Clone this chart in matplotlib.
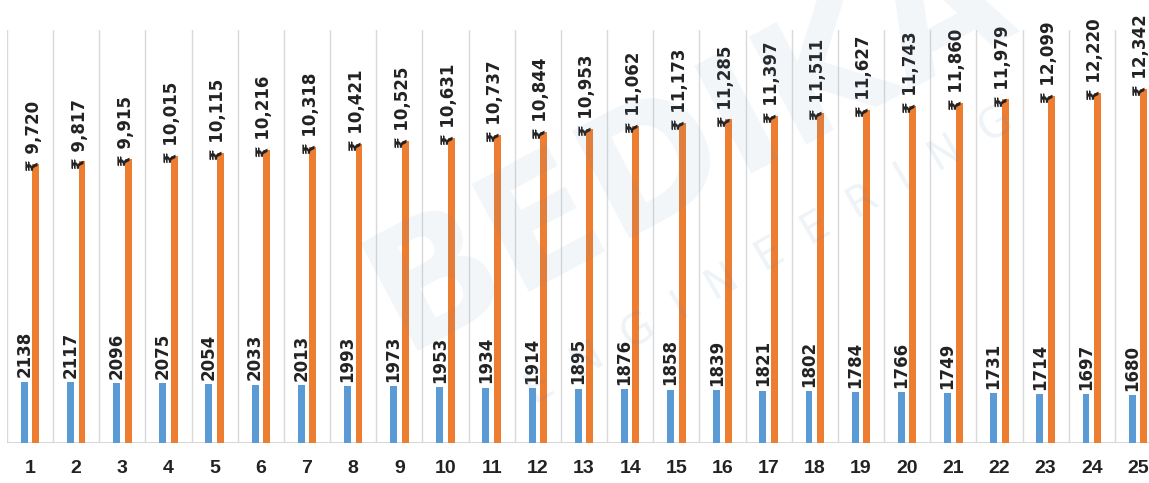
import numpy as np
import matplotlib.pyplot as plt

# year index and the two series
years = list(range(1, 26))
units = [2138, 2117, 2096, 2075, 2054, 2033, 2013, 1993, 1973, 1953,
         1934, 1914, 1895, 1876, 1858, 1839, 1821, 1802, 1784, 1766,
         1749, 1731, 1714, 1697, 1680]
savings = [9720, 9817, 9915, 10015, 10115, 10216, 10318, 10421, 10525, 10631,
           10737, 10844, 10953, 11062, 11173, 11285, 11397, 11511, 11627, 11743,
           11860, 11979, 12099, 12220, 12342]

blue = '#5B9BD5'
orange = '#ED7D31'

fig = plt.figure(figsize=(11.49, 4.83), dpi=100)
fig.patch.set_facecolor('white')
ax = fig.add_axes([7 / 1149, 40 / 483, 1154 / 1149, 413 / 483])

# faint watermark behind everything
fig.text(0.60, 0.70, 'BEDIKA', fontsize=120, fontweight='bold', color='#5B8DB8',
         alpha=0.08, rotation=28, ha='center', va='center', zorder=0)
fig.text(0.67, 0.47, 'E  N  G  I  N  E  E  R  I  N  G', fontsize=30, color='#5B8DB8',
         alpha=0.10, rotation=30, ha='center', va='center', zorder=0)

x = np.arange(len(years))
w = 0.15
off = 0.125

ax.bar(x - off, units, width=w, color=blue, zorder=3)
ax.bar(x + off, savings, width=w, color=orange, zorder=3)

for xi, u, s in zip(x, units, savings):
    ax.text(xi - off, u + 150, f'{u}', rotation=90, ha='center', va='bottom',
            fontsize=12, fontweight='bold', color='#222222', zorder=4)
    ax.text(xi + off - 0.05, s - 250, f'\u20b9 {s:,}', rotation=90, ha='center', va='bottom',
            fontsize=12, fontweight='bold', color='#222222', zorder=4)

ax.set_xlim(-0.5, len(years) - 0.5)
ax.set_ylim(0, 14400)

# vertical separators between categories
for b in np.arange(-0.5, len(years), 1.0):
    ax.axvline(b, color='#D9D9D9', lw=1, zorder=1)
ax.axhline(0, color='#D0D0D0', lw=1.2, zorder=2)

ax.set_xticks(x)
ax.set_xticklabels([str(y) for y in years], fontsize=14, fontweight='bold',
                   family='Liberation Sans', color='#222222')
ax.tick_params(axis='x', length=0, pad=12)
ax.set_yticks([])
for sp in ax.spines.values():
    sp.set_visible(False)
ax.patch.set_alpha(0)

fig.savefig('out.png', dpi=100)
